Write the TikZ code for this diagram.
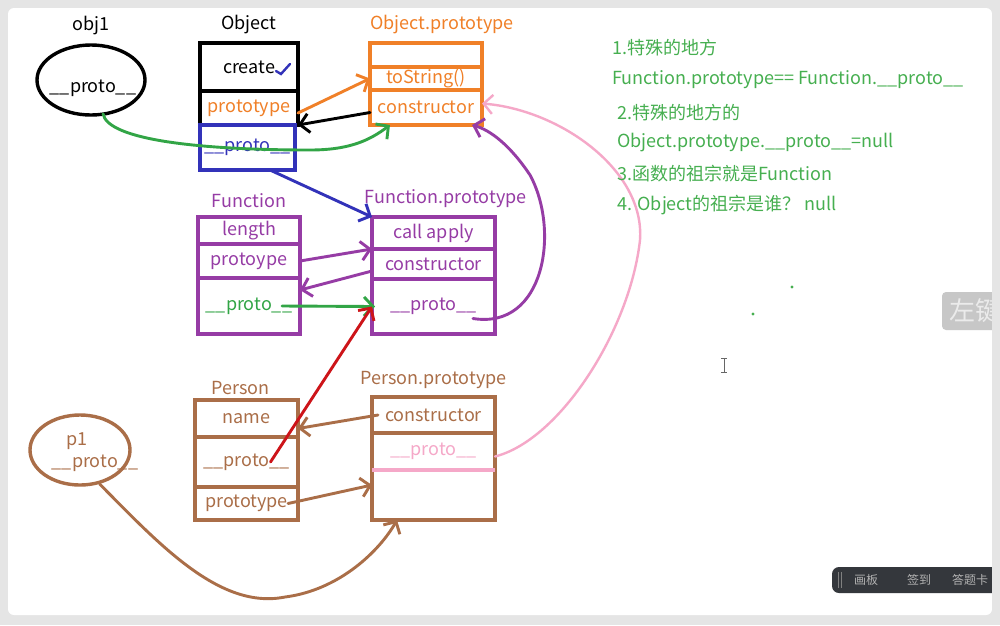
\documentclass[tikz,border=0pt]{standalone}
\usepackage{fontspec}
\setmainfont{Noto Sans CJK SC}
\usetikzlibrary{arrows.meta,positioning,shapes.geometric}

\definecolor{jsorange}{RGB}{240,128,40}
\definecolor{jspurple}{RGB}{150,60,165}
\definecolor{jsblue}{RGB}{50,50,185}
\definecolor{jsgreen}{RGB}{50,165,70}
\definecolor{jsbrown}{RGB}{170,110,72}
\definecolor{jspink}{RGB}{245,168,200}
\definecolor{jsred}{RGB}{205,20,25}
\definecolor{notegreen}{RGB}{70,175,80}
\definecolor{barbg}{RGB}{52,55,60}

\begin{document}
\begin{tikzpicture}[x=1pt,y=-1pt,>={Straight Barb[length=9pt,width=19pt]},node distance=0pt]

    \tikzstyle{every node}=[font=\fontsize{18}{21}\selectfont]
    \tikzstyle{row}=[draw,rectangle,outer sep=0pt,inner sep=0pt,line width=3.4pt]
    \tikzstyle{title}=[inner sep=0pt]
    \tikzstyle{link}=[->,line width=2.9pt,line cap=round,line join=round]
    \tikzstyle{note}=[text=notegreen,anchor=west,inner sep=0pt]
    \tikzstyle{bartext}=[text=black!30,font=\fontsize{12}{13}\selectfont]

    % page
    \useasboundingbox (0,0) rectangle (1000,625);
    \fill[black!10] (0,0) rectangle (1000,625);
    \fill[white,rounded corners=6pt] (8,8) rectangle (992,615);

    % obj1
    \node[ellipse,draw,line width=3.4pt,minimum width=108pt,minimum height=70pt] (obj1) at (91,80) {};
    \node (obj1p) at (93,88) {\_\_proto\_\_};
    \node[title,above=8pt of obj1] (obj1t) {obj1};

    % Object
    \node[row,minimum width=98pt,minimum height=48pt,anchor=north] (ob1) at (249,43) {create\hspace{10pt}};
    \node[row,minimum width=98pt,minimum height=34pt,text=jsorange,below=of ob1] (ob2) {prototype};
    \node[row,draw=jsblue,text=jsblue,minimum width=95pt,minimum height=45pt,below=of ob2,xshift=-1.5pt] (ob3) {\_\_proto\_\_};
    \node[title,above=9pt of ob1] (obt) {Object};
    \draw[jsblue,line width=2.4pt,line cap=round] (276,71) -- (281,74) -- (290,64);

    % Object.prototype
    \node[row,draw=jsorange,minimum width=112pt,minimum height=24pt,anchor=north] (op1) at (426,43) {};
    \node[row,draw=jsorange,text=jsorange,minimum width=112pt,minimum height=23pt,below=of op1] (op2) {toString()};
    \node[row,draw=jsorange,text=jsorange,minimum width=112pt,minimum height=35pt,below=of op2] (op3) {constructor};
    \node[title,text=jsorange,above=9pt of op1,xshift=16pt] (opt) {Object.prototype};

    % Function
    \node[row,draw=jspurple,text=jspurple,minimum width=102pt,minimum height=27pt,anchor=north] (fn1) at (249,217) {length};
    \node[row,draw=jspurple,text=jspurple,minimum width=102pt,minimum height=34pt,below=of fn1] (fn2) {protoype};
    \node[row,draw=jspurple,text=jsgreen,minimum width=102pt,minimum height=56pt,below=of fn2] (fn3) {\_\_proto\_\_};
    \node[title,text=jspurple,above=9pt of fn1] (fnt) {Function};

    % Function.prototype
    \node[row,draw=jspurple,text=jspurple,minimum width=123pt,minimum height=32pt,anchor=north] (fp1) at (433.5,217) {call apply};
    \node[row,draw=jspurple,text=jspurple,minimum width=123pt,minimum height=30pt,below=of fp1] (fp2) {constructor};
    \node[row,draw=jspurple,text=jspurple,minimum width=123pt,minimum height=55pt,below=of fp2] (fp3) {\raisebox{-8pt}{\_\_proto\_\_}};
    \node[title,text=jspurple,above=9pt of fp1,xshift=12pt] (fpt) {Function.prototype};

    % Person
    \node[row,draw=jsbrown,text=jsbrown,minimum width=103pt,minimum height=37pt,anchor=north] (pe1) at (246.5,400) {name};
    \node[row,draw=jsbrown,text=jsbrown,minimum width=103pt,minimum height=50pt,below=of pe1] (pe2) {\_\_proto\_\_};
    \node[row,draw=jsbrown,text=jsbrown,minimum width=103pt,minimum height=33pt,below=of pe2] (pe3) {prototype};
    \node[title,text=jsbrown,above=5pt of pe1,xshift=-6pt] (pet) {Person};

    % Person.prototype
    \node[row,draw=jsbrown,text=jsbrown,minimum width=123pt,minimum height=36pt,anchor=north] (pp1) at (433.5,397) {constructor};
    \node[row,draw=jsbrown,text=jspink,minimum width=123pt,minimum height=37pt,below=of pp1] (pp2) {\_\_proto\_\_};
    \node[row,draw=jsbrown,minimum width=123pt,minimum height=50pt,below=of pp2] (pp3) {};
    \draw[jspink,line width=3.4pt] (pp2.south west) -- (pp2.south east);
    \node[title,text=jsbrown,above=8pt of pp1] (ppt) {Person.prototype};

    % p1
    \node[ellipse,draw=jsbrown,line width=3.4pt,minimum width=100pt,minimum height=70pt] (p1) at (80,450) {};
    \node[text=jsbrown,inner sep=0pt] (p1t) at (77,441) {p1};
    \node[text=jsbrown,inner sep=0pt] (p1p) at (95,463) {\_\_proto\_\_};

    % links
    \draw[link,jsgreen] ([xshift=10pt,yshift=-14pt]obj1p.south) .. controls (108,140) and (200,150) .. (310,150) .. controls (350,150) and (370,140) .. ([xshift=20pt]op3.south west);
    \draw[link,jsorange] ([yshift=-5pt]ob2.east) -- (op2.west);
    \draw[link,black] ([yshift=-5pt]op3.west) -- (ob2.south east);
    \draw[link,jsblue] ([xshift=-25pt]ob3.south east) -- (fp1.north west);
    \draw[link,jspurple] (fn2.east) -- (fp1.south west);
    \draw[link,jspurple] ([yshift=-7pt]fp2.west) -- ([yshift=-12pt]fn3.north east);
    \draw[link,jsgreen] ([xshift=-18pt]fn3.east) -- ([xshift=3pt]fp3.west);
    \draw[link,jspurple] ([xshift=-22pt,yshift=-12pt]fp3.east) .. controls (545,330) and (560,230) .. (530,175) .. controls (510,145) and (490,130) .. ([xshift=-10pt]op3.south east);
    \draw[link,jspink,line width=2.4pt] ([yshift=-5pt]pp2.east) .. controls (560,440) and (630,330) .. (640,240) .. controls (645,170) and (560,110) .. ([yshift=4pt]op3.east);
    \draw[link,jsred] ([xshift=24pt]pe2.center) -- (fp3.west);
    \draw[link,jsbrown] ([xshift=6pt]pp1.west) -- ([yshift=-10pt]pe1.east);
    \draw[link,jsbrown] ([xshift=-10pt]pe3.east) -- ([yshift=10pt]pp3.west);
    \draw[link,jsbrown] (p1.-60) .. controls (160,545) and (220,610) .. (285,597) .. controls (340,590) and (380,550) .. ([xshift=25pt]pp3.south west);

    % notes
    \node[note] (n1) at (612,48) {1.特殊的地方};
    \node[note] (n2) at (612,80) {Function.prototype== Function.\_\_proto\_\_};
    \node[note] (n3) at (617,113) {2.特殊的地方的};
    \node[note] (n4) at (617,143) {Object.prototype.\_\_proto\_\_=null};
    \node[note] (n5) at (617,174) {3.函数的祖宗就是Function};
    \node[note] (n6) at (617,205) {4. Object的祖宗是谁？ null};
    \fill[notegreen] (792,287) circle (1.6pt);
    \fill[notegreen] (753,314) circle (1.6pt);

    % screen bits
    \draw[black!60,line width=0.8pt] (724,358) -- (724,372) (721,358) -- (727,358) (721,372) -- (727,372);
    \begin{scope}
      \clip (942,292) rectangle (992,330);
      \fill[black!22,rounded corners=4pt] (942,292) rectangle (1010,330);
      \node[text=black!8,anchor=west,font=\fontsize{26}{28}\selectfont] (hint) at (946,311) {左键};
    \end{scope}
    \fill[barbg,rounded corners=7pt] (832,567) rectangle (1010,593);
    \fill[black!10] (992,0) rectangle (1000,625);
    \draw[black!50,line width=0.6pt] (838,572) -- (838,588) (841,572) -- (841,588);
    \node[bartext] (b1) at (866,580) {画板};
    \node[bartext] (b2) at (919,580) {签到};
    \node[bartext] (b3) at (970,580) {答题卡};
\end{tikzpicture}
\end{document}
